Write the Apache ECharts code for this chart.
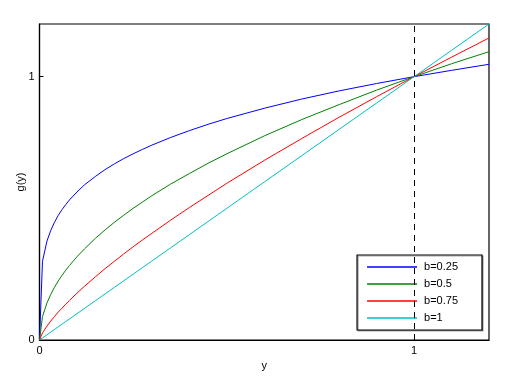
<!DOCTYPE html>
<html><head><meta charset="utf-8">
<script src="https://cdn.jsdelivr.net/npm/echarts@6/dist/echarts.min.js"></script>
<style>html,body{margin:0;padding:0;background:#fff}#c{width:521px;height:379px}</style>
</head><body><div id="c"></div>
<script>
var xs    = [0, 0.008, 0.02, 0.03, 0.04, 0.05, 0.06, 0.07, 0.08, 0.1, 0.12, 0.15, 0.175, 0.2, 0.225, 0.25, 0.275, 0.3, 0.35, 0.4, 0.45, 0.5, 0.6, 0.7, 0.8, 0.9, 1.0, 1.1, 1.2];
var yB025 = [0, 0.299, 0.376, 0.416, 0.447, 0.473, 0.495, 0.514, 0.532, 0.562, 0.589, 0.622, 0.647, 0.669, 0.689, 0.707, 0.724, 0.740, 0.769, 0.795, 0.819, 0.841, 0.880, 0.915, 0.946, 0.974, 1.0, 1.024, 1.047];
var yB05  = [0, 0.089, 0.141, 0.173, 0.200, 0.224, 0.245, 0.265, 0.283, 0.316, 0.346, 0.387, 0.418, 0.447, 0.474, 0.500, 0.524, 0.548, 0.592, 0.632, 0.671, 0.707, 0.775, 0.837, 0.894, 0.949, 1.0, 1.049, 1.095];
var yB075 = [0, 0.027, 0.053, 0.072, 0.089, 0.106, 0.121, 0.136, 0.150, 0.178, 0.204, 0.241, 0.271, 0.299, 0.327, 0.354, 0.380, 0.405, 0.455, 0.503, 0.549, 0.595, 0.682, 0.765, 0.846, 0.924, 1.0, 1.074, 1.147];
var yB1   = [0, 0.008, 0.02, 0.03, 0.04, 0.05, 0.06, 0.07, 0.08, 0.1, 0.12, 0.15, 0.175, 0.2, 0.225, 0.25, 0.275, 0.3, 0.35, 0.4, 0.45, 0.5, 0.6, 0.7, 0.8, 0.9, 1.0, 1.1, 1.2];
var names = ['b=0.25', 'b=0.5', 'b=0.75', 'b=1'];
var colors = ['#0000ff', '#008000', '#ff0000', '#00bfbf'];
var xTicks = [0, 1];
var yTicks = [0, 1];
var markX = 1;

function pairs(ys){ return xs.map(function(x,i){ return [x, ys[i]]; }); }
var allY = [yB025, yB05, yB075, yB1];
var font = 'Liberation Sans, Arial, sans-serif';

var series = allY.map(function(ys, i){
  var s = {
    name: names[i], type: 'line', data: pairs(ys), showSymbol: false, symbol: 'none',
    lineStyle: {width: 1, color: colors[i]}, itemStyle: {color: colors[i]},
    smooth: false, animation: false, silent: true, z: 3
  };
  if (i === 0) {
    s.markLine = {
      silent: true, symbol: ['none','none'], label: {show: false},
      lineStyle: {color: '#000', type: [6, 5], width: 1},
      data: [{xAxis: markX}], animation: false
    };
  }
  return s;
});

var chart = echarts.init(document.getElementById('c'), null, {renderer: 'canvas'});
chart.setOption({
  animation: false,
  backgroundColor: '#fff',
  grid: {left: 39.5, top: 24, right: 32, bottom: 39, show: true, borderColor: '#000', borderWidth: 1.2, backgroundColor: 'transparent'},
  legend: {
    data: names, orient: 'vertical', right: 39, bottom: 49,
    icon: 'rect', itemWidth: 50, itemHeight: 1.5, itemGap: 5,
    padding: [6, 24, 6, 10],
    backgroundColor: '#fff', borderColor: '#000', borderWidth: 1.2,
    shadowColor: 'rgba(0,0,0,0.35)', shadowOffsetX: 1, shadowOffsetY: 1,
    textStyle: {fontFamily: font, fontSize: 11, color: '#000', lineHeight: 12, padding: [0, 0, 0, 2]}
  },
  xAxis: {
    type: 'value', min: 0, max: 1.2, interval: 1,
    name: 'y', nameLocation: 'middle', nameGap: 20,
    nameTextStyle: {fontFamily: font, fontSize: 11, color: '#000'},
    axisLine: {show: true, lineStyle: {color: '#000', width: 1.2}},
    axisTick: {show: true, inside: true, length: 4, lineStyle: {color: '#000'}},
    axisLabel: {fontFamily: font, fontSize: 11, color: '#000', margin: 5, showMaxLabel: false,
      formatter: function(v){ return xTicks.indexOf(v) >= 0 ? String(v) : ''; }},
    splitLine: {show: false}
  },
  yAxis: {
    type: 'value', min: 0, max: 1.2, interval: 1,
    name: 'g(y)', nameLocation: 'middle', nameGap: 13, nameRotate: 90, nameMoveOverlap: false,
    nameTextStyle: {fontFamily: font, fontSize: 11, color: '#000'},
    axisLine: {show: true, lineStyle: {color: '#000', width: 1.2}},
    axisTick: {show: true, inside: true, length: 4, lineStyle: {color: '#000'}},
    axisLabel: {fontFamily: font, fontSize: 11, color: '#000', margin: 5, showMaxLabel: false,
      formatter: function(v){ return yTicks.indexOf(v) >= 0 ? String(v) : ''; }},
    splitLine: {show: false}
  },
  series: series
});
</script></body></html>
